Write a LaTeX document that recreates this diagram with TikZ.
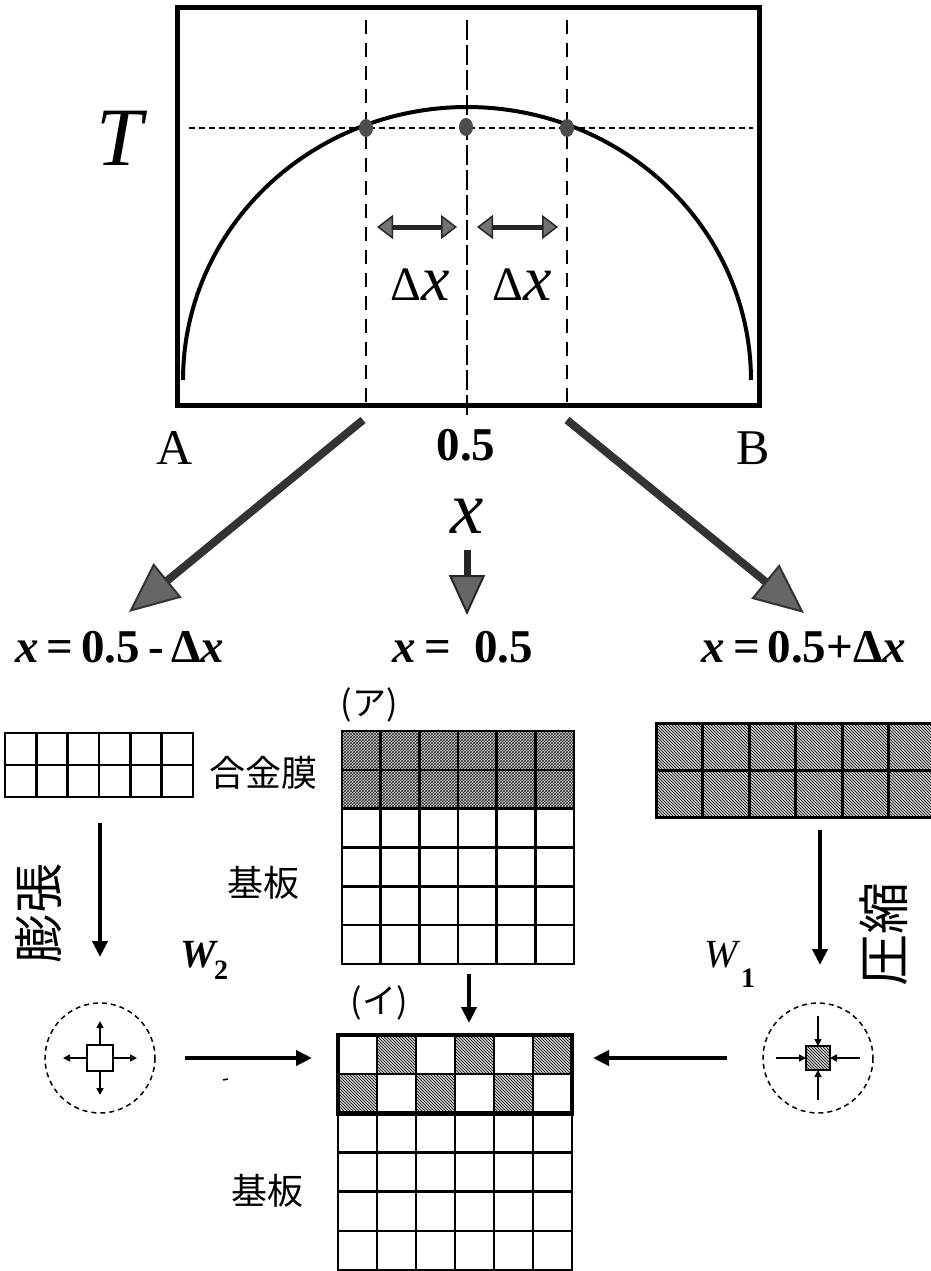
\documentclass[tikz,border=0pt]{standalone}
\usepackage{fontspec}
\setmainfont{Liberation Serif}
\newfontfamily\cjk{Noto Sans CJK JP}
\usetikzlibrary{arrows.meta,patterns}
\newcommand\fsz[1]{\fontsize{#1}{#1}\selectfont}
\begin{document}
\begin{tikzpicture}[x=1pt,y=-1pt,
  txt/.style={inner sep=0pt,anchor=base},
  big/.style={line width=8pt,draw=black!80,-{Triangle[length=50pt,width=44pt,fill=black!60,line width=2pt]}},
  bigc/.style={line width=7pt,draw=black!85,-{Triangle[length=40pt,width=36pt,fill=black!60,line width=2pt]}},
  dbl/.style={line width=5pt,draw=black!85,{Triangle[length=16pt,width=24pt,fill=black!55,line width=1.5pt]}-{Triangle[length=16pt,width=24pt,fill=black!55,line width=1.5pt]}},
  thinarr/.style={line width=4pt,-{Triangle[length=16pt,width=15pt]}},
  tinyarr/.style={line width=1.6pt,-{Triangle[length=7pt,width=7pt]}},
  gridl/.style={line width=2.5pt},
  hatch/.style={pattern=north west lines,pattern color=black},
  cross/.style={pattern=crosshatch,pattern color=black!85},
  dcirc/.style={line width=1.5pt,dash pattern=on 5pt off 4pt},
]
\useasboundingbox (0,0) rectangle (931,1271);
\clip (0,0) rectangle (931,1271);
\fill[white] (0,0) rectangle (931,1271);

% ---------- top graph ----------
\draw[line width=1.5pt,dash pattern=on 20pt off 5pt] (467,20) -- (467,418);
\draw[line width=2.5pt,dash pattern=on 14pt off 9pt] (366,20) -- (366,405);
\draw[line width=2.5pt,dash pattern=on 14pt off 9pt] (567,20) -- (567,405);
\draw[line width=1.5pt,dash pattern=on 6pt off 4pt] (189,128) -- (753,128);
\draw[line width=4pt] plot[domain=180:0,samples=120] ({467+284*cos(\x)},{380-273*sin(\x)});
\draw[line width=5pt] (177,8) rectangle (759,405);
\fill[black!70] (366,128) ellipse[x radius=7,y radius=9];
\fill[black!70] (466,127) ellipse[x radius=7,y radius=9];
\fill[black!70] (567,128) ellipse[x radius=7,y radius=9];

\coordinate (dl1) at (377,227); \coordinate (dl2) at (457,227);
\coordinate (dr1) at (477,227); \coordinate (dr2) at (558,227);
\draw[dbl] (dl1) -- (dl2);
\draw[dbl] (dr1) -- (dr2);

\node[txt] (dxl) at (420,300) {\fsz{48}Δ\fsz{64}\itshape x};
\node[txt] (dxr) at (522,300) {\fsz{48}Δ\fsz{64}\itshape x};
\node[txt] (T) at (120,165) {\fsz{83}\itshape T};
\node[txt] (A) at (175,464) {\fsz{50}A};
\node[txt] (B) at (753,464) {\fsz{50}B};
\node[txt] (half) at (466,460) {\fsz{47}\bfseries 0.5};
\node[txt] (xlab) at (467,533) {\fsz{75}\itshape x};

% ---------- big arrows ----------
\coordinate (aL1) at (363,420); \coordinate (aL2) at (129,612);
\coordinate (aC1) at (467,550); \coordinate (aC2) at (467,615);
\coordinate (aR1) at (567,420); \coordinate (aR2) at (804,613);
\draw[big] (aL1) -- (aL2);
\draw[bigc] (aC1) -- (aC2);
\draw[big] (aR1) -- (aR2);

\node[txt] (eqL) at (120,662) {\fsz{47}\bfseries{\itshape x}\,=\,0.5\,-\,Δ{\itshape x}};
\node[txt] (eqC) at (463,662) {\fsz{47}\bfseries{\itshape x}\,=\ \ 0.5};
\node[txt] (eqR) at (804,662) {\fsz{47}\bfseries{\itshape x}\,=\,0.5+Δ{\itshape x}};

% ---------- left film grid ----------
\foreach \k in {0,...,6} \draw[gridl] ({5+\k*31.33},733) -- ({5+\k*31.33},797);
\foreach \k in {0,...,2} \draw[gridl] (3.8,{733+\k*32}) -- (194.2,{733+\k*32});
\node[txt,font=\cjk\fsz{36}] (film) at (263,786) {合金膜};

% ---------- right film grid ----------
\fill[gray!35] (656,723) rectangle (940,817);
\fill[hatch] (656,723) rectangle (940,817);
\foreach \k in {0,...,6} \draw[line width=3pt] ({656+\k*46.5},723) -- ({656+\k*46.5},817);
\foreach \k in {0,...,2} \draw[line width=3pt] (654.5,{723+\k*47}) -- (940,{723+\k*47});

% ---------- grid (a) ----------
\node[txt,font=\cjk\fsz{34}] (labA) at (369,715) {(ア)};
\fill[gray!30] (342,731) rectangle (574,808.7);
\fill[cross] (342,731) rectangle (574,808.7);
\foreach \k in {0,...,6} \draw[gridl] ({342+\k*38.67},731) -- ({342+\k*38.67},964);
\foreach \k in {0,...,6} \draw[gridl] (340.8,{731+\k*38.83}) -- (575.2,{731+\k*38.83});
\draw[line width=3.5pt] (342,808.7) -- (574,808.7);
\node[txt,font=\cjk\fsz{36}] (sub1) at (263,896) {基板};

% ---------- grid (b) ----------
\node[txt,font=\cjk\fsz{34}] (labB) at (379,1013) {(イ)};
\foreach \c in {1,3,5} {
  \fill[gray!35] ({338+\c*39},1035) rectangle ({338+(\c+1)*39},1074.2);
  \fill[hatch] ({338+\c*39},1035) rectangle ({338+(\c+1)*39},1074.2);
}
\foreach \c in {0,2,4} {
  \fill[gray!35] ({338+\c*39},1074.2) rectangle ({338+(\c+1)*39},1113.3);
  \fill[hatch] ({338+\c*39},1074.2) rectangle ({338+(\c+1)*39},1113.3);
}
\foreach \k in {0,...,6} \draw[gridl] ({338+\k*39},1035) -- ({338+\k*39},1270);
\foreach \k in {0,...,6} \draw[gridl] (336.8,{1035+\k*39.17}) -- (573.2,{1035+\k*39.17});
\draw[line width=4.5pt] (338,1035) rectangle (572,1113.3);
\node[txt,font=\cjk\fsz{36}] (sub2) at (267,1204) {基板};

% ---------- vertical arrows ----------
\coordinate (vL1) at (100,823); \coordinate (vL2) at (100,957);
\coordinate (vR1) at (820,830); \coordinate (vR2) at (820,965);
\coordinate (vC1) at (469,974); \coordinate (vC2) at (469,1023);
\draw[thinarr] (vL1) -- (vL2);
\draw[thinarr] (vR1) -- (vR2);
\draw[thinarr] (vC1) -- (vC2);

\node[font=\cjk\fsz{50},rotate=90,inner sep=0pt] (exp) at (39,913) {膨張};
\node[font=\cjk\fsz{52},rotate=90,inner sep=0pt] (comp) at (884,934) {圧縮};

\node[txt] (W2) at (198,967) {\fsz{40}\bfseries\itshape W};
\node[txt,anchor=base west] (W2s) at (214,979) {\fsz{28}\bfseries 2};
\node[txt] (W1) at (721,967) {\fsz{40}\itshape W};
\node[txt,anchor=base west] (W1s) at (741,987) {\fsz{28}\bfseries 1};

% ---------- circles ----------
\draw[dcirc] (100,1058) circle[radius=55];
\draw[line width=2pt,fill=white] (87,1045) rectangle (113,1071);
\draw[tinyarr] (100,1045) -- (100,1021);
\draw[tinyarr] (100,1071) -- (100,1095);
\draw[tinyarr] (87,1058) -- (63,1058);
\draw[tinyarr] (113,1058) -- (137,1058);

\draw[dcirc] (818,1058) circle[radius=55];
\fill[gray!35] (806,1046) rectangle (830,1070);
\fill[hatch] (806,1046) rectangle (830,1070);
\draw[line width=2pt] (806,1046) rectangle (830,1070);
\draw[tinyarr] (818,1016) -- (818,1046);
\draw[tinyarr] (818,1100) -- (818,1070);
\draw[tinyarr] (776,1058) -- (806,1058);
\draw[tinyarr] (860,1058) -- (830,1058);

% ---------- horizontal arrows ----------
\coordinate (hL1) at (185,1058); \coordinate (hL2) at (312,1058);
\coordinate (hR1) at (727,1058); \coordinate (hR2) at (593,1058);
\draw[thinarr] (hL1) -- (hL2);
\draw[thinarr] (hR1) -- (hR2);
\draw[line width=1.5pt] (223,1080) -- (228,1079);
\end{tikzpicture}
\end{document}
